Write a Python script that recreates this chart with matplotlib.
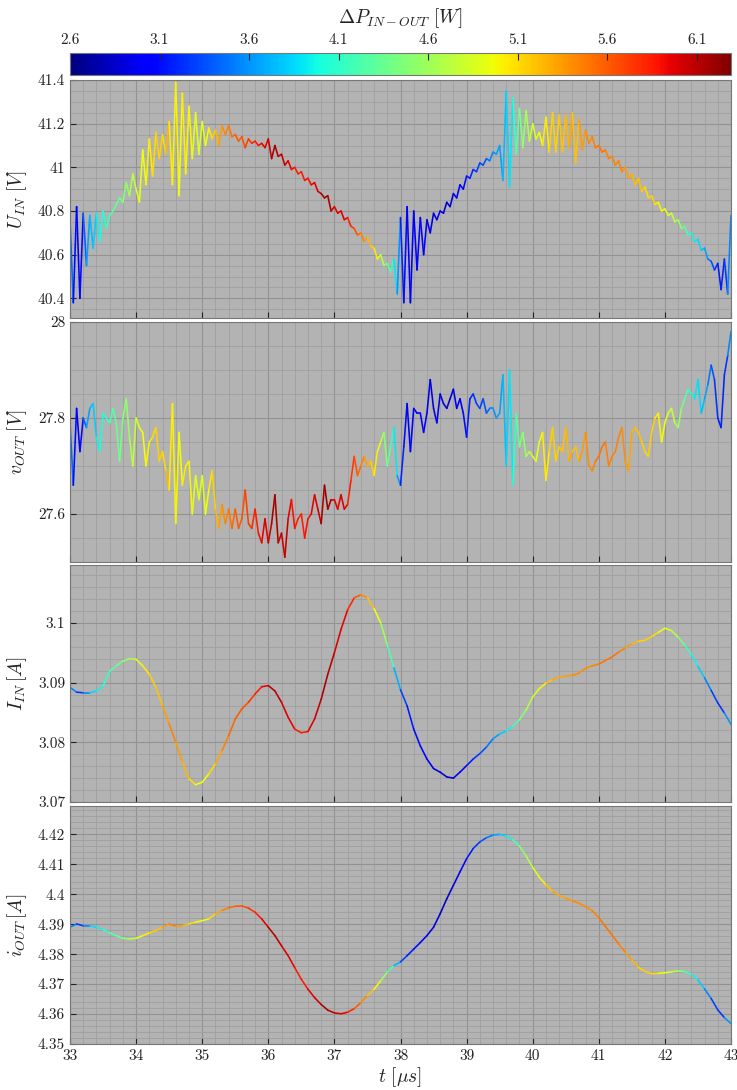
import numpy as np
import matplotlib
matplotlib.use("Agg")
import matplotlib.pyplot as plt
from matplotlib.collections import LineCollection
from matplotlib.ticker import MultipleLocator, FuncFormatter

plt.rcParams['font.family'] = 'serif'
plt.rcParams['font.serif'] = ['cmr10', 'DejaVu Serif']
plt.rcParams['mathtext.fontset'] = 'cm'
plt.rcParams['axes.formatter.use_mathtext'] = True

# time bases [us]
t_fine = np.round(np.arange(33.0, 43.0001, 0.05), 2)
t_coarse = np.round(np.arange(33.0, 43.0001, 0.1), 2)

# input voltage U_IN [V], 0.05 us steps
u_in = [
    40.76, 40.38, 40.82, 40.40, 40.79, 40.55, 40.78, 40.63, 40.79, 40.66,
    40.80, 40.72, 40.78, 40.80, 40.83, 40.86, 40.84, 40.93, 40.87, 40.97,
    40.90, 40.84, 41.08, 40.92, 41.13, 40.96, 41.16, 41.04, 41.15, 41.06,
    41.21, 40.92, 41.39, 40.87, 41.34, 40.97, 41.28, 41.04, 41.25, 41.06,
    41.21, 41.10, 41.18, 41.13, 41.17, 41.10, 41.19, 41.15, 41.19, 41.14,
    41.15, 41.12, 41.14, 41.09, 41.13, 41.11, 41.12, 41.10, 41.11, 41.09,
    41.13, 41.04, 41.10, 41.05, 41.06, 41.01, 41.03, 40.99, 41.00, 40.97,
    40.98, 40.94, 40.95, 40.92, 40.93, 40.89, 40.88, 40.86, 40.87, 40.80,
    40.82, 40.79, 40.80, 40.76, 40.77, 40.73, 40.72, 40.69, 40.70, 40.66,
    40.68, 40.64, 40.63, 40.58, 40.60, 40.55, 40.56, 40.52, 40.58, 40.42,
    40.77, 40.38, 40.82, 40.38, 40.80, 40.53, 40.77, 40.60, 40.76, 40.70,
    40.79, 40.76, 40.80, 40.79, 40.84, 40.82, 40.88, 40.86, 40.92, 40.90,
    40.96, 40.95, 40.99, 40.98, 41.02, 41.01, 41.04, 41.03, 41.07, 41.06,
    41.10, 40.94, 41.35, 40.91, 41.32, 41.06, 41.27, 41.09, 41.26, 41.12,
    41.20, 41.13, 41.16, 41.10, 41.23, 41.07, 41.25, 41.07, 41.24, 41.07,
    41.24, 41.09, 41.25, 41.02, 41.22, 41.08, 41.17, 41.11, 41.14, 41.09,
    41.10, 41.07, 41.08, 41.04, 41.05, 41.01, 41.03, 40.98, 41.00, 40.95,
    40.97, 40.92, 40.95, 40.89, 40.91, 40.86, 40.87, 40.83, 40.84, 40.80,
    40.81, 40.78, 40.79, 40.75, 40.76, 40.72, 40.73, 40.69, 40.70, 40.66,
    40.67, 40.62, 40.63, 40.58, 40.57, 40.53, 40.56, 40.44, 40.58, 40.42,
    40.78,
]

# output voltage v_OUT [V], 0.05 us steps
v_out = [
    27.79, 27.66, 27.82, 27.73, 27.80, 27.78, 27.82, 27.83, 27.76, 27.73,
    27.81, 27.80, 27.79, 27.82, 27.79, 27.71, 27.80, 27.84, 27.76, 27.70,
    27.80, 27.78, 27.77, 27.70, 27.75, 27.76, 27.78, 27.71, 27.73, 27.69,
    27.65, 27.83, 27.58, 27.77, 27.66, 27.70, 27.71, 27.60, 27.68, 27.63,
    27.68, 27.60, 27.65, 27.69, 27.61, 27.57, 27.62, 27.58, 27.61, 27.57,
    27.61, 27.57, 27.59, 27.65, 27.58, 27.57, 27.61, 27.56, 27.54, 27.59,
    27.54, 27.58, 27.64, 27.54, 27.56, 27.51, 27.59, 27.63, 27.57, 27.59,
    27.60, 27.55, 27.59, 27.60, 27.64, 27.61, 27.58, 27.66, 27.61, 27.63,
    27.63, 27.61, 27.64, 27.61, 27.62, 27.67, 27.72, 27.68, 27.70, 27.72,
    27.70, 27.71, 27.68, 27.73, 27.75, 27.77, 27.70, 27.74, 27.78, 27.68,
    27.66, 27.74, 27.83, 27.73, 27.82, 27.81, 27.81, 27.77, 27.81, 27.88,
    27.82, 27.79, 27.85, 27.83, 27.82, 27.84, 27.86, 27.82, 27.84, 27.81,
    27.76, 27.84, 27.85, 27.83, 27.82, 27.84, 27.81, 27.82, 27.82, 27.80,
    27.81, 27.89, 27.70, 27.90, 27.66, 27.81, 27.74, 27.77, 27.72, 27.73,
    27.72, 27.71, 27.75, 27.77, 27.67, 27.73, 27.78, 27.71, 27.74, 27.73,
    27.78, 27.71, 27.73, 27.74, 27.71, 27.73, 27.77, 27.70, 27.69, 27.71,
    27.72, 27.74, 27.75, 27.70, 27.72, 27.73, 27.76, 27.78, 27.71, 27.69,
    27.77, 27.78, 27.77, 27.75, 27.73, 27.72, 27.77, 27.80, 27.81, 27.75,
    27.79, 27.81, 27.82, 27.79, 27.78, 27.82, 27.84, 27.86, 27.85, 27.84,
    27.88, 27.81, 27.84, 27.87, 27.91, 27.88, 27.80, 27.78, 27.89, 27.93,
    27.98,
]

# input current I_IN [A], 0.1 us steps
i_in = [
    3.0892, 3.0884, 3.0883, 3.0883, 3.0886, 3.0894, 3.0919, 3.0928, 3.0936, 3.0940,
    3.0939, 3.0928, 3.0914, 3.0892, 3.0861, 3.0831, 3.0800, 3.0767, 3.0739, 3.0729,
    3.0733, 3.0747, 3.0764, 3.0786, 3.0811, 3.0839, 3.0856, 3.0867, 3.0881, 3.0893,
    3.0895, 3.0886, 3.0867, 3.0842, 3.0822, 3.0816, 3.0818, 3.0839, 3.0872, 3.0914,
    3.0950, 3.0989, 3.1022, 3.1042, 3.1047, 3.1042, 3.1024, 3.1000, 3.0963, 3.0925,
    3.0888, 3.0861, 3.0822, 3.0794, 3.0772, 3.0756, 3.0750, 3.0742, 3.0740, 3.0750,
    3.0761, 3.0772, 3.0781, 3.0792, 3.0806, 3.0814, 3.0819, 3.0827, 3.0838, 3.0854,
    3.0876, 3.0890, 3.0899, 3.0905, 3.0909, 3.0911, 3.0912, 3.0916, 3.0924, 3.0928,
    3.0931, 3.0937, 3.0943, 3.0951, 3.0958, 3.0965, 3.0969, 3.0971, 3.0977, 3.0984,
    3.0991, 3.0987, 3.0976, 3.0963, 3.0947, 3.0927, 3.0908, 3.0887, 3.0866, 3.0849,
    3.0830,
]

# output current i_OUT [A], 0.1 us steps
i_out = [
    4.3890, 4.3901, 4.3895, 4.3895, 4.3890, 4.3882, 4.3871, 4.3862, 4.3853, 4.3851,
    4.3853, 4.3862, 4.3871, 4.3879, 4.3890, 4.3901, 4.3893, 4.3895, 4.3901, 4.3907,
    4.3912, 4.3918, 4.3935, 4.3946, 4.3955, 4.3960, 4.3961, 4.3954, 4.3940, 4.3918,
    4.3890, 4.3862, 4.3828, 4.3795, 4.3755, 4.3716, 4.3683, 4.3655, 4.3632, 4.3613,
    4.3604, 4.3601, 4.3606, 4.3618, 4.3638, 4.3662, 4.3683, 4.3711, 4.3740, 4.3762,
    4.3774, 4.3795, 4.3817, 4.3839, 4.3862, 4.3890, 4.3935, 4.3985, 4.4030, 4.4075,
    4.4119, 4.4153, 4.4175, 4.4189, 4.4198, 4.4200, 4.4196, 4.4182, 4.4161, 4.4128,
    4.4090, 4.4057, 4.4032, 4.4010, 4.3996, 4.3987, 4.3978, 4.3970, 4.3959, 4.3945,
    4.3922, 4.3893, 4.3864, 4.3834, 4.3807, 4.3780, 4.3756, 4.3742, 4.3735, 4.3736,
    4.3738, 4.3741, 4.3744, 4.3742, 4.3733, 4.3714, 4.3684, 4.3652, 4.3614, 4.3588,
    4.3568,
]

# power loss dP_IN-OUT [W], 0.05 us steps (colour of every trace)
dp = [
    3.9, 3.0, 3.2, 2.9, 3.3, 3.5, 3.8, 3.7, 3.9, 4.0,
    4.0, 4.1, 4.2, 4.25, 4.3, 4.4, 4.45, 4.5, 4.6, 4.7,
    4.8, 4.85, 5.0, 4.9, 5.1, 5.0, 5.2, 5.1, 5.2, 5.0,
    5.5, 4.6, 5.4, 4.6, 5.3, 4.8, 5.2, 4.8, 5.0, 4.8,
    4.9, 4.9, 5.0, 5.1, 5.2, 5.3, 5.4, 5.4, 5.5, 5.5,
    5.6, 5.6, 5.6, 5.7, 5.7, 5.8, 5.8, 5.9, 5.9, 6.0,
    6.0, 6.1, 6.2, 6.1, 6.0, 6.1, 6.0, 5.9, 5.9, 5.8,
    5.8, 5.9, 5.9, 5.9, 6.0, 6.0, 6.1, 6.2, 6.2, 6.1,
    6.0, 5.9, 6.0, 6.0, 5.9, 5.8, 5.7, 5.6, 5.5, 5.4,
    5.3, 5.2, 5.1, 5.0, 4.8, 4.6, 4.4, 4.2, 4.0, 3.8,
    3.4, 3.0, 3.2, 2.9, 3.1, 3.0, 3.1, 3.0, 3.0, 2.9,
    2.9, 3.0, 2.9, 2.9, 2.8, 2.9, 2.9, 3.0, 3.0, 3.1,
    3.1, 3.2, 3.2, 3.3, 3.3, 3.3, 3.4, 3.5, 3.6, 3.6,
    3.7, 3.6, 3.9, 3.8, 4.0, 4.2, 4.4, 4.5, 4.6, 4.7,
    4.8, 4.9, 4.9, 5.0, 5.1, 5.0, 5.3, 5.0, 5.3, 5.1,
    5.3, 5.2, 5.4, 5.0, 5.4, 5.3, 5.4, 5.4, 5.4, 5.5,
    5.5, 5.5, 5.5, 5.4, 5.5, 5.4, 5.5, 5.4, 5.4, 5.3,
    5.3, 5.2, 5.2, 5.2, 5.1, 5.1, 5.2, 5.1, 5.0, 5.0,
    4.9, 4.9, 4.8, 4.7, 4.6, 4.5, 4.3, 4.2, 4.0, 3.9,
    3.9, 3.8, 3.7, 3.6, 3.4, 3.3, 3.2, 3.1, 3.3, 3.2,
    3.9,
]

cb_ticks = [2.6, 3.1, 3.6, 4.1, 4.6, 5.1, 5.6, 6.1]
dp_min, dp_max = 2.6, 6.29

dp = np.array(dp)
dp_coarse = dp[::2]
norm = plt.Normalize(dp_min, dp_max)
cmap = plt.get_cmap('jet')


def colored_line(ax, t, y, c):
    pts = np.column_stack([t, y]).reshape(-1, 1, 2)
    segs = np.concatenate([pts[:-1], pts[1:]], axis=1)
    cval = 0.5 * (c[:-1] + c[1:])
    lc = LineCollection(segs, cmap=cmap, norm=norm, linewidth=1.15,
                        capstyle='round', joinstyle='round')
    lc.set_array(cval)
    ax.add_collection(lc)
    return lc


fmt = FuncFormatter(lambda v, p: '%g' % round(v, 4))

W, H = 737, 1090
fig = plt.figure(figsize=(W / 100, H / 100), dpi=100)


def box(left, top, right, bottom):
    return [left / W, 1 - bottom / H, (right - left) / W, (bottom - top) / H]


panels = [
    (box(70, 80, 731, 318), t_fine, u_in, dp, (40.31, 41.4), 0.2, 0.05,
     r'$U_{IN}\ [V]$'),
    (box(70, 322, 731, 562), t_fine, v_out, dp, (27.5, 28.0), 0.2, 0.05,
     r'$v_{OUT}\ [V]$'),
    (box(70, 565, 731, 802), t_coarse, i_in, dp_coarse, (3.07, 3.1097), 0.01, 0.002,
     r'$I_{IN}\,[A]$'),
    (box(70, 806, 731, 1044), t_coarse, i_out, dp_coarse, (4.35, 4.4295), 0.01, 0.002,
     r'$i_{OUT}\,[A]$'),
]

axes = []
for pos, t, y, c, ylim, ymaj, ymin, lab in panels:
    ax = fig.add_axes(pos)
    ax.set_facecolor('#b3b3b3')
    colored_line(ax, t, np.array(y), c)
    ax.set_xlim(33, 43)
    ax.set_ylim(*ylim)
    ax.xaxis.set_major_locator(MultipleLocator(1))
    ax.xaxis.set_minor_locator(MultipleLocator(0.2))
    ax.yaxis.set_major_locator(MultipleLocator(ymaj))
    ax.yaxis.set_minor_locator(MultipleLocator(ymin))
    ax.yaxis.set_major_formatter(fmt)
    ax.grid(which='major', color='#929292', linewidth=0.8)
    ax.grid(which='minor', color='#9f9f9f', linewidth=0.6, linestyle='-')
    ax.set_axisbelow(True)
    ax.tick_params(which='both', direction='in', top=False, right=False,
                   labelsize=11, colors='#222222', length=4)
    ax.tick_params(which='minor', length=0)
    for s in ax.spines.values():
        s.set_color('#777777')
        s.set_linewidth(0.8)
    ax.set_ylabel(lab, fontsize=14, color='#222222', labelpad=6)
    ax.tick_params(axis='x', labelbottom=False)
    axes.append(ax)

axes[-1].tick_params(axis='x', labelbottom=True)
axes[-1].xaxis.set_major_formatter(fmt)
axes[-1].set_xlabel(r'$t\ [\mu s]$', fontsize=14, color='#222222', labelpad=2)
for ax in axes:
    ax.yaxis.set_label_coords(-0.062, 0.5)

# colorbar on top
cax = fig.add_axes(box(70, 53, 731, 75))
sm = plt.cm.ScalarMappable(norm=norm, cmap=cmap)
cb = fig.colorbar(sm, cax=cax, orientation='horizontal', ticks=cb_ticks)
cax.xaxis.set_ticks_position('top')
cax.xaxis.set_label_position('top')
cax.xaxis.set_major_formatter(fmt)
cax.tick_params(direction='in', length=5, labelsize=11, colors='#222222', pad=4)
cb.outline.set_edgecolor('#777777')
cb.set_label(r'$\Delta P_{IN-OUT}\ [W]$', fontsize=14, color='#222222', labelpad=8)

fig.savefig('out.png', dpi=100, facecolor='white')
